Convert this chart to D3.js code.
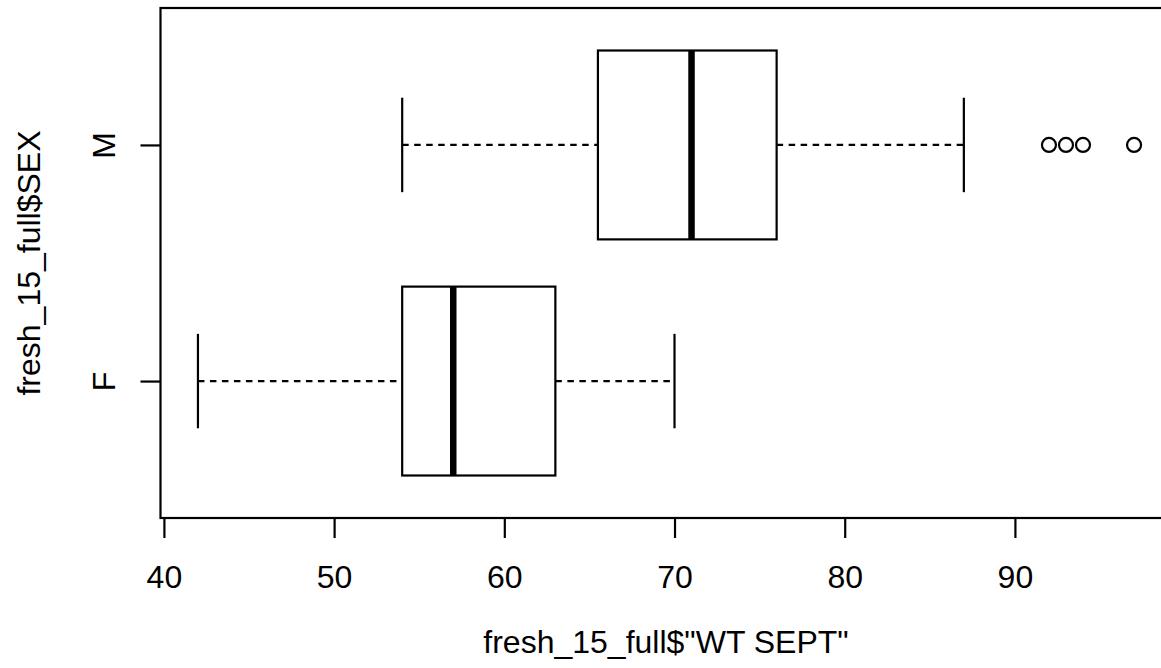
<!DOCTYPE html>
<html>
<head>
<meta charset="utf-8">
<script src="https://cdn.jsdelivr.net/npm/d3@7"></script>
<style>
  html, body { margin: 0; padding: 0; background: #fff; }
  svg { display: block; font-family: "Liberation Sans", Arial, sans-serif; }
</style>
</head>
<body>
<svg id="chart" width="1161" height="668"></svg>
<script>
// boxplot stats, one entry per group
const CATEGORIES = ['F', 'M'];
const WHISKER_LO = [42, 54];
const Q1 = [54, 65.5];
const MEDIAN = [57, 71];
const Q3 = [63, 76];
const WHISKER_HI = [70, 87];
const OUTLIERS = [[], [92, 93, 94, 97]];
const X_TICKS = [40, 50, 60, 70, 80, 90];

const X_TITLE = 'fresh_15_full$"WT SEPT"';
const Y_TITLE = 'fresh_15_full$SEX';

const FONT_SIZE = '32px';

const groups = CATEGORIES.map((c, i) => ({
    name: c, pos: i + 1,
    lo: WHISKER_LO[i], q1: Q1[i], med: MEDIAN[i], q3: Q3[i], hi: WHISKER_HI[i],
    out: OUTLIERS[i]
}));

const svg = d3.select('#chart');

const xScale = d3.scaleLinear().domain([39.8, 99.2]).range([160.5, 1171.5]);
const yScale = d3.scaleLinear().domain([0.42, 2.58]).range([518, 8]);

const BOX_HALF = 0.4;
const STAPLE_HALF = 0.2;

// plot frame
svg.append('rect')
    .attr('x', xScale(39.8)).attr('y', yScale(2.58))
    .attr('width', xScale(99.2) - xScale(39.8))
    .attr('height', yScale(0.42) - yScale(2.58))
    .attr('fill', 'none').attr('stroke', '#000').attr('stroke-width', 2.2);

const g = svg.selectAll('g.box')
    .data(groups)
    .enter()
    .append('g')
    .attr('class', 'box');

// dashed whiskers
g.append('line')
    .attr('x1', d => xScale(d.lo)).attr('x2', d => xScale(d.q1))
    .attr('y1', d => yScale(d.pos)).attr('y2', d => yScale(d.pos))
    .attr('stroke', '#000').attr('stroke-width', 2.2).attr('stroke-dasharray', '6.5,5.5');
g.append('line')
    .attr('x1', d => xScale(d.q3)).attr('x2', d => xScale(d.hi))
    .attr('y1', d => yScale(d.pos)).attr('y2', d => yScale(d.pos))
    .attr('stroke', '#000').attr('stroke-width', 2.2).attr('stroke-dasharray', '6.5,5.5');

// staples
for (const key of ['lo', 'hi']) {
    g.append('line')
        .attr('x1', d => xScale(d[key])).attr('x2', d => xScale(d[key]))
        .attr('y1', d => yScale(d.pos + STAPLE_HALF)).attr('y2', d => yScale(d.pos - STAPLE_HALF))
        .attr('stroke', '#000').attr('stroke-width', 2.2);
}

// boxes
g.append('rect')
    .attr('x', d => xScale(d.q1))
    .attr('y', d => yScale(d.pos + BOX_HALF))
    .attr('width', d => xScale(d.q3) - xScale(d.q1))
    .attr('height', d => yScale(d.pos - BOX_HALF) - yScale(d.pos + BOX_HALF))
    .attr('fill', '#fff').attr('stroke', '#000').attr('stroke-width', 2.2);

// medians
g.append('line')
    .attr('x1', d => xScale(d.med)).attr('x2', d => xScale(d.med))
    .attr('y1', d => yScale(d.pos + BOX_HALF)).attr('y2', d => yScale(d.pos - BOX_HALF))
    .attr('stroke', '#000').attr('stroke-width', 6.5);

// outliers
g.selectAll('circle')
    .data(d => d.out.map(v => ({v, pos: d.pos})))
    .enter()
    .append('circle')
    .attr('cx', d => xScale(d.v))
    .attr('cy', d => yScale(d.pos))
    .attr('r', 7)
    .attr('fill', 'none').attr('stroke', '#000').attr('stroke-width', 2.2);

// axes
const xAxis = d3.axisBottom(xScale).tickValues(X_TICKS).tickSize(20).tickSizeOuter(0);
const xG = svg.append('g')
    .attr('transform', `translate(0,${yScale(0.42)})`)
    .call(xAxis);
xG.select('.domain').remove();
xG.append('line')
    .attr('x1', xScale(X_TICKS[0])).attr('x2', xScale(X_TICKS[X_TICKS.length - 1]))
    .attr('stroke', '#000').attr('stroke-width', 2.2);
xG.selectAll('.tick line').attr('stroke', '#000').attr('stroke-width', 2.2);
xG.selectAll('.tick text')
    .attr('y', 70).attr('dy', 0)
    .attr('fill', '#000').style('font-size', FONT_SIZE)
    .style('font-family', '"Liberation Sans", Arial, sans-serif');

const yAxis = d3.axisLeft(yScale).tickValues(groups.map(d => d.pos))
    .tickFormat((d, i) => CATEGORIES[i]).tickSize(20).tickSizeOuter(0);
const yG = svg.append('g')
    .attr('transform', `translate(${xScale(39.8)},0)`)
    .call(yAxis);
yG.select('.domain').remove();
yG.selectAll('.tick line').attr('stroke', '#000').attr('stroke-width', 2.2);
yG.selectAll('.tick text')
    .attr('transform', 'rotate(-90)')
    .attr('x', 0).attr('y', -46).attr('dy', 0)
    .attr('text-anchor', 'middle')
    .attr('fill', '#000').style('font-size', FONT_SIZE)
    .style('font-family', '"Liberation Sans", Arial, sans-serif');

// titles
svg.append('text')
    .attr('x', (xScale(39.8) + xScale(99.2)) / 2)
    .attr('y', 653)
    .attr('text-anchor', 'middle')
    .style('font-size', FONT_SIZE)
    .text(X_TITLE);

svg.append('text')
    .attr('transform', `translate(40,${(yScale(0.42) + yScale(2.58)) / 2}) rotate(-90)`)
    .attr('text-anchor', 'middle')
    .style('font-size', FONT_SIZE)
    .text(Y_TITLE);
</script>
</body>
</html>
